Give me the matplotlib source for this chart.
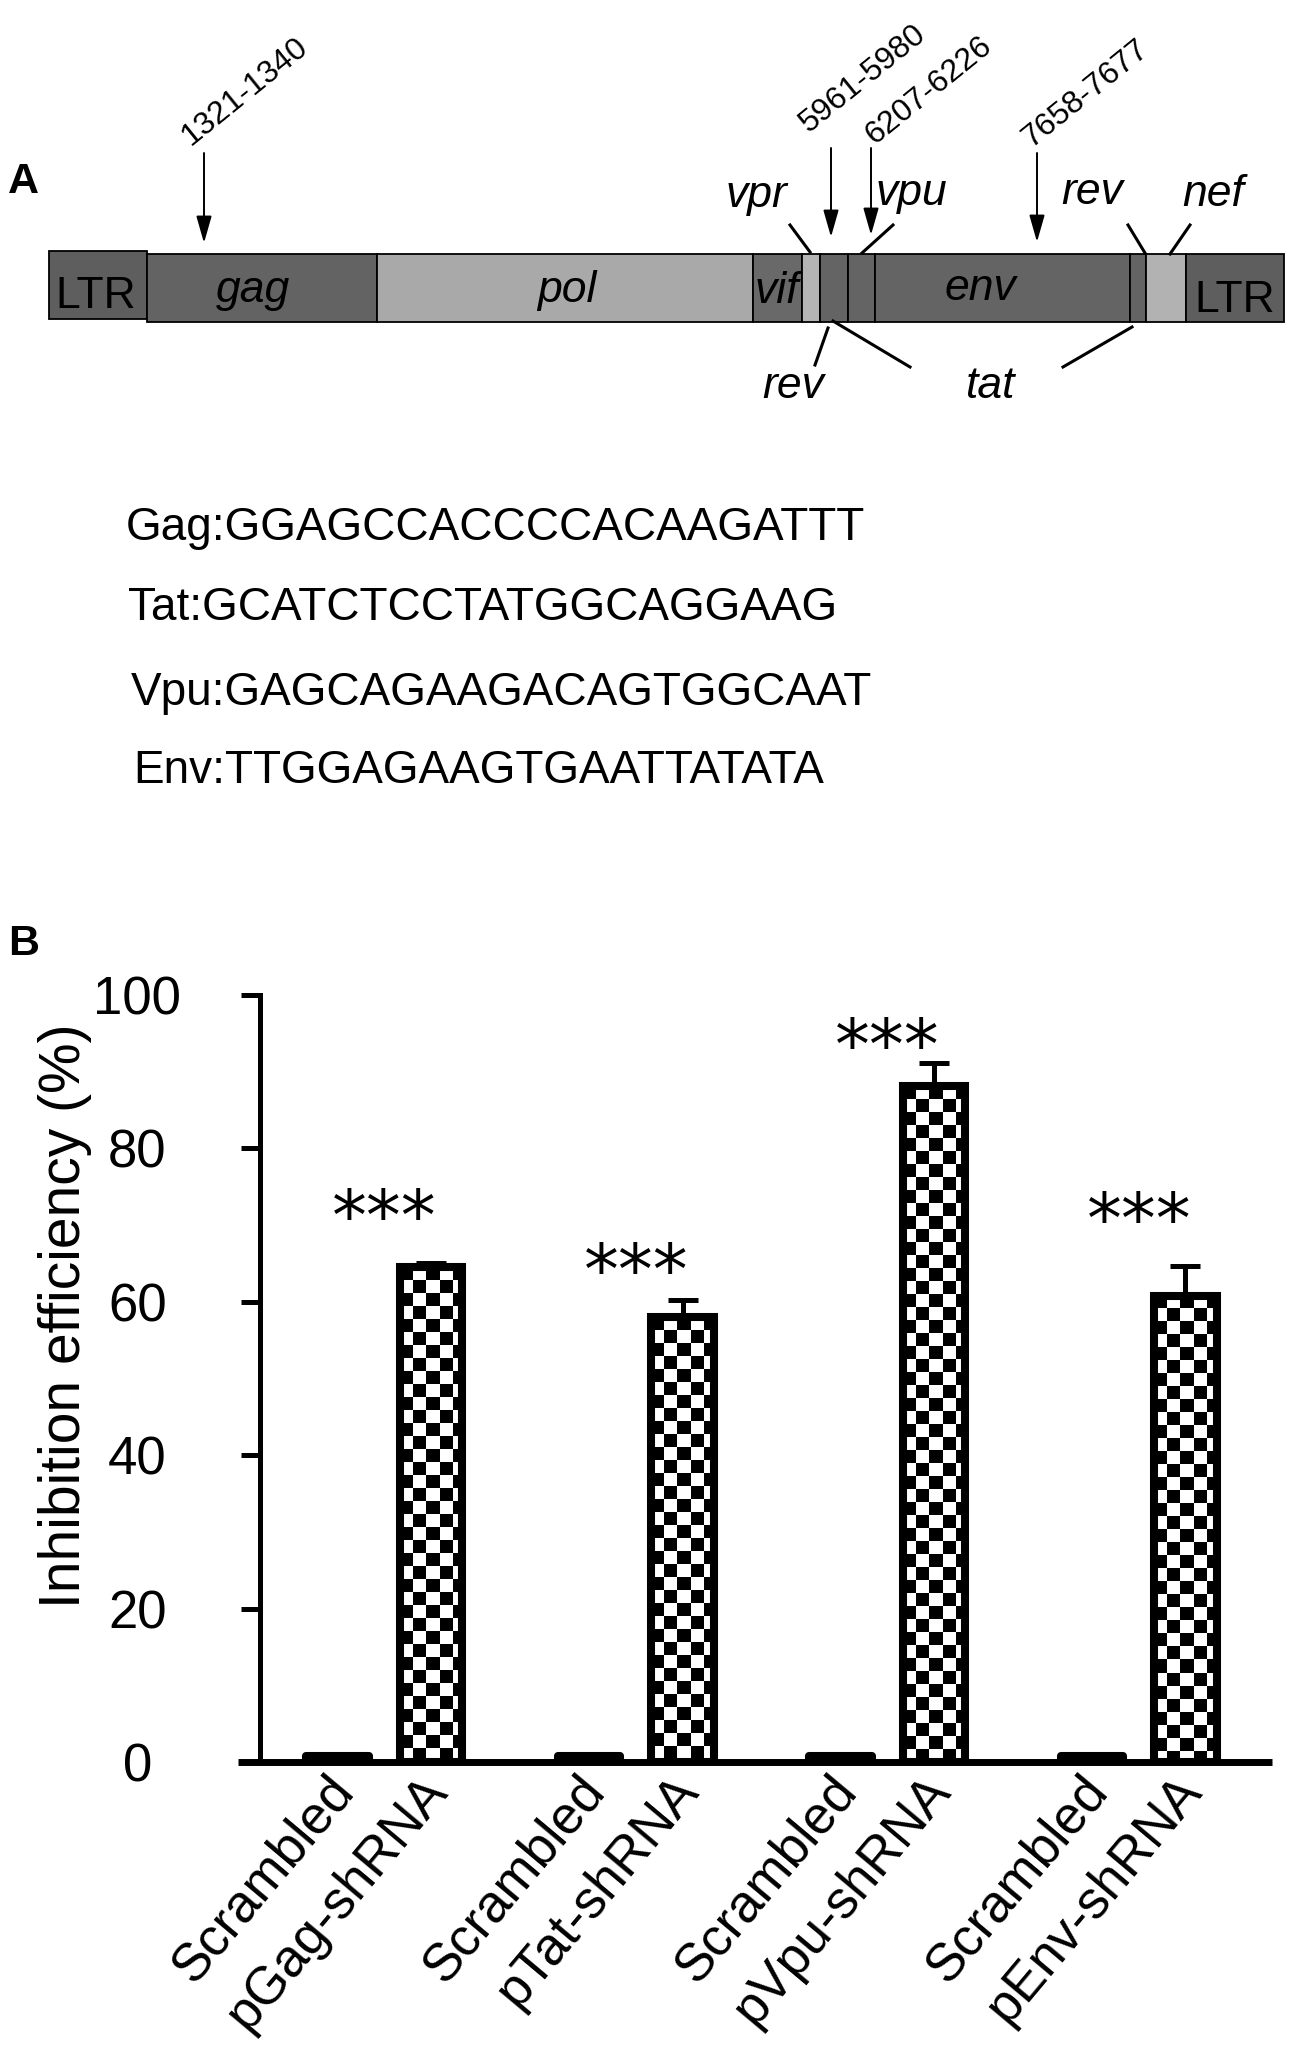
import numpy as np
import matplotlib.pyplot as plt
from matplotlib.patches import Rectangle
import matplotlib.transforms as mtransforms

plt.rcParams['font.family'] = ['Liberation Sans', 'DejaVu Sans']

# ---- panel B data ----
groups = ['pGag-shRNA', 'pTat-shRNA', 'pVpu-shRNA', 'pEnv-shRNA']
scrambled = [0.8, 0.8, 0.8, 0.8]
inhibition = [64.5, 58.0, 88.1, 60.8]
inhibition_err = [0.5, 2.2, 3.0, 3.9]
stars = ['***', '***', '***', '***']
star_y = [73.2, 66.2, 95.5, 72.9]
yticks = [0, 20, 40, 60, 80, 100]

# ---- panel A data (schematic units) ----
seg_start = [49, 147, 377, 753, 802, 820, 848, 875, 1130, 1146, 1186]
seg_end = [147, 377, 753, 802, 820, 848, 875, 1130, 1146, 1186, 1284]
seg_shade = ['#5e5e5e', '#636363', '#a9a9a9', '#696969', '#b5b5b5', '#646464',
             '#646464', '#646464', '#646464', '#b2b2b2', '#5e5e5e']
inner_labels = ['LTR', 'gag', 'pol', 'vif', 'env', 'LTR']
inner_x = [96, 253, 567, 777, 980, 1235]
inner_base = [308, 302, 302, 303, 300, 312]
inner_italic = [False, True, True, True, True, False]

outer_labels = ['vpr', 'vpu', 'rev', 'nef', 'rev', 'tat']
outer_x = [756, 911, 1092, 1213, 793, 991]
outer_base = [207, 205, 204, 206, 398, 398]
pointers = [(790, 225, 810, 252), (893, 225, 862, 253), (1128, 225, 1145, 253),
            (1190, 225, 1170, 254), (828, 328, 815, 365), (833, 321, 910, 367),
            (1132, 327, 1063, 367)]

sites = ['1321-1340', '5961-5980', '6207-6226', '7658-7677']
site_x = [204, 831, 871, 1037]
site_top = [153, 148, 148, 153]
site_tip = [243, 237, 235, 242]
site_lab_x = [191, 809, 874, 1031]
site_lab_y = [146, 133, 145, 148]

seqs = ['Gag:GGAGCCACCCCACAAGATTT', 'Tat:GCATCTCCTATGGCAGGAAG',
        'Vpu:GAGCAGAAGACAGTGGCAAT', 'Env:TTGGAGAAGTGAATTATATA']
seq_x = [126, 128, 131, 133]
seq_base = [540, 620, 705, 783]

W, H = 1293, 2046
fig = plt.figure(figsize=(W / 100, H / 100), dpi=100)

# ================= panel A =================
axa = fig.add_axes([0, 1 - 450 / H, 1, 450 / H])
axa.set_xlim(0, W)
axa.set_ylim(450, 0)
axa.axis('off')

for i, (x0, x1, c) in enumerate(zip(seg_start, seg_end, seg_shade)):
    y0 = 251 if i == 0 else 254
    axa.add_patch(Rectangle((x0, y0), x1 - x0, 68, facecolor=c,
                            edgecolor='black', linewidth=1.3))

for s, x, yb, it in zip(inner_labels, inner_x, inner_base, inner_italic):
    axa.text(x, yb, s, fontsize=32, ha='center', va='baseline',
             style='italic' if it else 'normal')

for s, x, yb in zip(outer_labels, outer_x, outer_base):
    axa.text(x, yb, s, fontsize=32, ha='center', va='baseline', style='italic')

for x0, y0, x1, y1 in pointers:
    axa.plot([x0, x1], [y0, y1], color='black', lw=2.2)

for s, x, yt, yp, lx, ly in zip(sites, site_x, site_top, site_tip, site_lab_x, site_lab_y):
    axa.annotate('', xy=(x, yp), xytext=(x, yt),
                 arrowprops=dict(arrowstyle='-|>,head_length=1.65,head_width=0.47',
                                 mutation_scale=10, lw=1.4, color='black',
                                 shrinkA=0, shrinkB=0))
    axa.text(lx, ly, s, fontsize=23, rotation=39, rotation_mode='anchor',
             ha='left', va='baseline')

fig.text(8 / W, 1 - 193 / H, 'A', fontsize=31, fontweight='bold', ha='left', va='baseline')

for s, x, yb in zip(seqs, seq_x, seq_base):
    fig.text(x / W, 1 - yb / H, s, fontsize=33, ha='left', va='baseline')

# ================= panel B =================
fig.text(8 / W, 1 - 955 / H, 'B', fontsize=31, fontweight='bold', ha='left', va='baseline')

ax_l, ax_r, ax_b, ax_t = 259.5, 1272, 1762, 995
ax = fig.add_axes([ax_l / W, 1 - ax_b / H, (ax_r - ax_l) / W, (ax_b - ax_t) / H])
xlo, xhi = -0.496, 3.53
ax.set_xlim(xlo, xhi)
ax.set_ylim(0, 100)

centers = np.arange(len(groups))
off = 0.186
bw = 0.247
x_scr = centers - off
x_sh = centers + off

ax.bar(x_scr, scrambled, bw, color='black', edgecolor='black', linewidth=5.8,
       joinstyle='round', zorder=3)
bars = ax.bar(x_sh, inhibition, bw, facecolor='none', edgecolor='black',
              linewidth=5.8, zorder=3)

# checkerboard fill, ~13 px squares
px_x = (ax_r - ax_l) / (xhi - xlo)
px_y = (ax_b - ax_t) / 100
cx, cy = 13 / px_x, 13 / px_y
for b in bars:
    x0 = b.get_x()
    h = b.get_height()
    nx = int(np.ceil(b.get_width() / cx)) + 1
    ny = int(np.ceil(h / cy)) + 1
    board = np.indices((ny, nx)).sum(axis=0) % 2
    im = ax.imshow(board, cmap='gray', vmin=0, vmax=1, interpolation='nearest',
                   aspect='auto', origin='upper',
                   extent=(x0, x0 + nx * cx, h - ny * cy, h), zorder=2)
    im.set_clip_path(b)

ax.errorbar(x_sh, inhibition, yerr=[np.zeros(len(groups)), inhibition_err],
            fmt='none', ecolor='black', elinewidth=3.6, capsize=11, capthick=3.6,
            zorder=4)

for c, s, y in zip(centers, stars, star_y):
    ax.text(c, y - 5.2, s, fontsize=50, family='DejaVu Sans', ha='center',
            va='baseline', clip_on=False)

ax.set_xlim(xlo, xhi)
ax.set_ylim(0, 100)

for side in ['top', 'right', 'bottom']:
    ax.spines[side].set_visible(False)
ax.spines['left'].set_linewidth(3.6)
ax.plot([-21.5 / (ax_r - ax_l), 1], [0, 0], transform=ax.transAxes, color='black',
        lw=5.0, solid_capstyle='butt', clip_on=False, zorder=5)

ax.set_yticks(yticks)
ax.tick_params(axis='y', direction='out', length=14, width=3.6, labelsize=38, pad=74)
for t in ax.get_yticklabels():
    t.set_horizontalalignment('center')

ticks_x = np.ravel(np.column_stack([x_scr, x_sh]))
tick_labels = []
for g in groups:
    tick_labels += ['Scrambled', g]
ax.set_xticks(ticks_x)
ax.set_xticklabels(tick_labels, rotation=50, ha='right', va='top',
                   rotation_mode='anchor', fontsize=38)
ax.tick_params(axis='x', length=0, pad=3)
shift = mtransforms.ScaledTranslation(-0.12, 0, fig.dpi_scale_trans)
for t in ax.get_xticklabels():
    t.set_transform(t.get_transform() + shift)

fig.text(65 / W, 1 - 1316 / H, 'Inhibition efficiency (%)', fontsize=41,
         rotation=90, ha='center', va='center')

fig.savefig('out.png', dpi=100)
